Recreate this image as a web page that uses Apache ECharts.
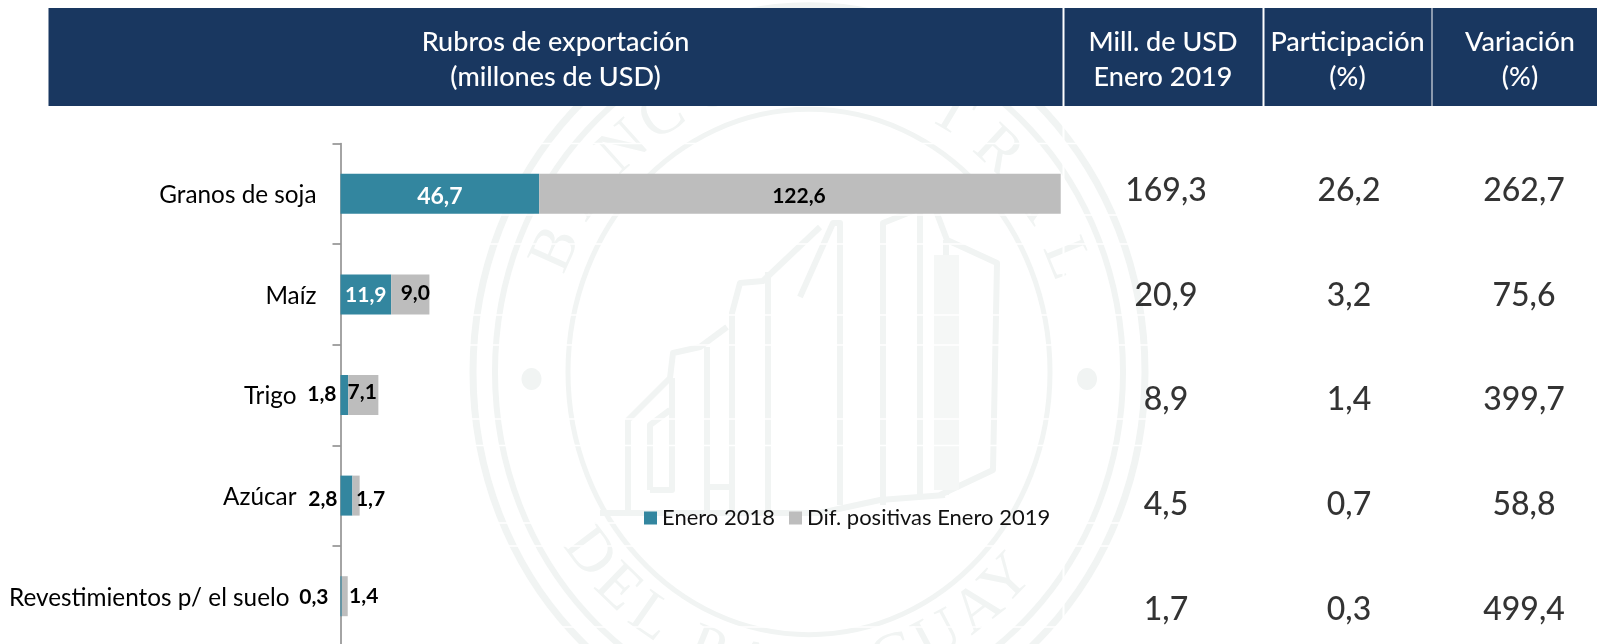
<!DOCTYPE html>
<html><head><meta charset="utf-8">
<style>html,body{margin:0;padding:0;background:#fff}#c{width:1597px;height:644px}</style>
<script src="https://cdn.jsdelivr.net/npm/echarts@6/dist/echarts.min.js"></script>
</head><body><div id="c"></div>
<script>
const categories = ['Granos de soja','Maíz','Trigo','Azúcar','Revestimientos p/ el suelo'];
const enero2018 = [46.7,11.9,1.8,2.8,0.3];
const difPositivas = [122.6,9.0,7.1,1.7,1.4];
const millUsd = ['169,3','20,9','8,9','4,5','1,7'];
const participacion = ['26,2','3,2','1,4','0,7','0,3'];
const variacion = ['262,7','75,6','399,7','58,8','499,4'];
const headers = ['Rubros de exportación\n(millones de USD)','Mill. de USD\nEnero 2019','Participación\n(%)','Variación\n(%)'];
const seriesNames = ['Enero 2018','Dif. positivas Enero 2019'];

const FONT = 'Lato';
const comma = v => v.toFixed(1).replace('.', ',');
const catPad = [0,0,20,20,27];
const tealPlace = [
  {position:'inside',color:'#fff',offset:[0,3],fontSize:23},
  {position:'inside',color:'#fff',offset:[0,1]},
  {position:'left',distance:4,color:'#000',offset:[0,-1]},
  {position:'left',distance:3,color:'#000',offset:[0,4]},
  {position:'left',distance:12,color:'#000',offset:[0,1]}
];
const greyPlace = [[-1,2],[5,-1],[-1,-3],[14.5,4],[19,0]];

const WM = '#f1f4f3', CX = 809, CY = 372, SY = 1.09, RT = 276;
const graphics = [];
function ring(rx, w){
  graphics.push({type:'ellipse',z:0,silent:true,shape:{cx:CX,cy:CY,rx:rx,ry:rx*SY},style:{fill:'none',stroke:WM,lineWidth:w}});
}
ring(336,7); ring(314,6); ring(241,5);
[[531.5,379],[1087,379]].forEach(p=>graphics.push({type:'ellipse',z:0,silent:true,shape:{cx:p[0],cy:p[1],rx:10,ry:11},style:{fill:WM}}));
function letter(ch, deg, top){
  const a = deg*Math.PI/180;
  graphics.push({type:'text',z:0,silent:true,
    x:CX+RT*Math.sin(a), y:top?CY-RT*SY*Math.cos(a):CY+RT*SY*Math.cos(a),
    rotation:top?-a:a,
    style:{text:ch,font:'62px "Liberation Serif"',fill:WM,textAlign:'center',textVerticalAlign:'middle'}});
}
[['B',-66],['A',-54],['N',-42],['C',-32],['O',-20],['C',-10],['E',0],['N',11],['T',31],['R',43],['A',55],['L',68]].forEach(l=>letter(l[0],l[1],true));
[['D',-53],['E',-44],['L',-35],['P',-22],['A',-12],['R',-2],['A',8],['G',18],['U',28],['A',38],['Y',46]].forEach(l=>letter(l[0],l[1],false));
const building = [
  [[600,513],[820,513],[880,500],[945,495]],
  [[628,513],[628,420],[670,378],[673,353],[700,347],[727,327]],
  [[650,490],[650,425],[670,410]],
  [[650,490],[672,490],[672,378]],
  [[707,513],[707,347]],
  [[732,513],[732,313],[740,283],[763,281],[820,227]],
  [[707,487],[732,487]],
  [[768,513],[768,272]],
  [[800,297],[833,223],[840,223],[840,505]],
  [[883,505],[883,223],[933,203],[947,240],[997,263],[993,470],[940,495]],
  [[920,495],[920,210]],
  [[946,495],[946,240]]
];
building.forEach(pts=>graphics.push({type:'polyline',z:0,silent:true,shape:{points:pts},style:{fill:'none',stroke:WM,lineWidth:6,lineJoin:'round'}}));
graphics.push({type:'rect',z:0,silent:true,shape:{x:934,y:255,width:25,height:235},style:{fill:'#f5f7f6'}});

[143.5,215,244,315,345,419,445.5,523,546,627].forEach(y=>graphics.push({type:'line',z:1,silent:true,shape:{x1:343,y1:y,x2:1597,y2:y},style:{stroke:'#fff',lineWidth:1.6}}));
graphics.push({type:'line',z:1,silent:true,shape:{x1:1063.5,y1:105,x2:1063.5,y2:644},style:{stroke:'#fff',lineWidth:2}});

const HEAD = '#193760';
[[48.5,1014],[1064.5,198],[1264.5,167],[1432.5,164.5]].forEach(r=>graphics.push({type:'rect',z:10,silent:true,shape:{x:r[0],y:8,width:r[1],height:98},style:{fill:HEAD}}));
[555.5,1163,1347.5,1520].forEach((x,i)=>graphics.push({type:'text',z:11,silent:true,x:x,y:60,
  style:{text:headers[i],font:'500 27px '+FONT,fill:'#fff',textAlign:'center',textVerticalAlign:'middle',lineHeight:35}}));

const barLabelFont = {fontFamily:FONT,fontWeight:'bold',fontSize:21};
const colGrids = [1116,1299,1474].map(x=>({left:x,width:100,top:138.5,height:523,outerBoundsMode:'none'}));
const tableCols = [millUsd,participacion,variacion];
const richCat = p => ({fontFamily:FONT,fontSize:24.3,color:'#000',padding:[3,p,0,0]});

const option = {
  animation:false,
  backgroundColor:'#fff',
  textStyle:{fontFamily:FONT},
  graphic:{elements:graphics},
  legend:{
    left:644,top:507,itemWidth:13,itemHeight:13,itemGap:14,padding:0,icon:'rect',
    data:seriesNames,
    textStyle:{fontFamily:FONT,fontSize:22,color:'#111'}
  },
  grid:[{left:340.5,top:143.5,width:723.2,height:503,outerBoundsMode:'none'}].concat(colGrids),
  xAxis:[{type:'value',gridIndex:0,min:0,max:170,show:false}].concat(
    colGrids.map((g,i)=>({type:'category',gridIndex:i+1,data:['v'],show:false}))),
  yAxis:[{
    type:'category',gridIndex:0,inverse:true,data:categories,
    axisLine:{show:true,lineStyle:{color:'#868686',width:1.5}},
    axisTick:{show:true,length:8,lineStyle:{color:'#868686',width:1.5}},
    splitLine:{show:false},
    axisLabel:{
      margin:24,color:'#000',fontFamily:FONT,fontSize:24.3,
      formatter:(v,i)=>`{r${catPad[i]}|${v}}`,
      rich:{r0:richCat(0),r20:richCat(20),r27:richCat(27)}
    }
  }].concat(colGrids.map((g,i)=>({type:'category',gridIndex:i+1,inverse:true,data:categories,show:false}))),
  series:[
    {name:seriesNames[0],type:'bar',stack:'t',xAxisIndex:0,yAxisIndex:0,barWidth:40,z:3,
     itemStyle:{color:'#33869f'},
     data:enero2018.map((v,i)=>({value:v,label:Object.assign({show:true,formatter:comma(v)},barLabelFont,tealPlace[i])}))},
    {name:seriesNames[1],type:'bar',stack:'t',xAxisIndex:0,yAxisIndex:0,barWidth:40,z:3,
     itemStyle:{color:'#bdbdbd'},
     data:difPositivas.map((v,i)=>({value:v,label:Object.assign({show:true,position:'inside',color:'#000',formatter:comma(v),offset:greyPlace[i]},barLabelFont)}))}
  ].concat(tableCols.map((col,i)=>({
    name:'col'+i,type:'scatter',xAxisIndex:i+1,yAxisIndex:i+1,symbolSize:1,silent:true,z:5,
    itemStyle:{color:'transparent'},
    data:col.map((s,j)=>({value:[0,j],label:{show:true,position:'inside',formatter:s,fontFamily:FONT,fontWeight:500,fontSize:32,color:'#000'}}))
  })))
};
const chart = echarts.init(document.getElementById('c'),null,{renderer:'canvas'});
chart.setOption(option);
</script></body></html>
